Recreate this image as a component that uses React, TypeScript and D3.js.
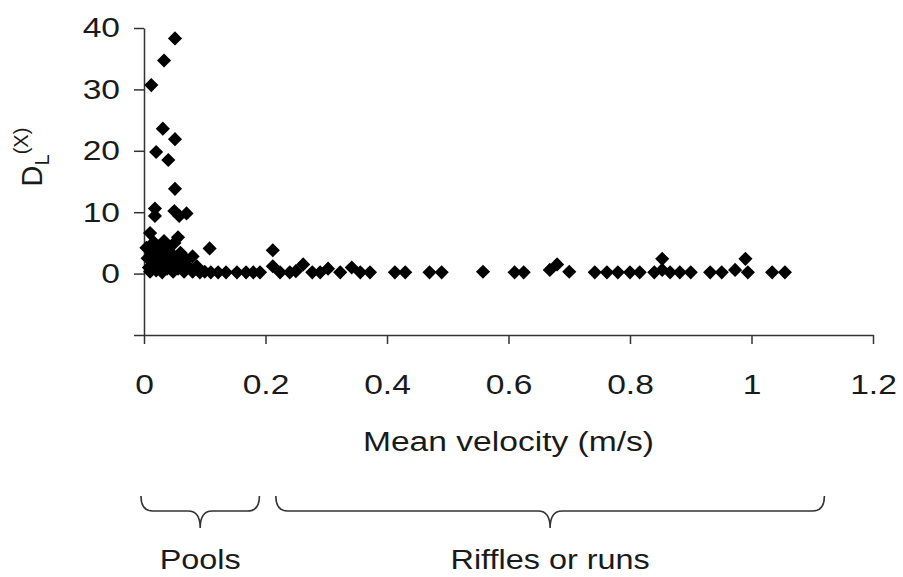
import React, { useEffect, useRef } from 'react';
import * as d3 from 'd3';

// velocity (m/s), D_L(X)
const pools: [number, number][] = [
  [0.012, 30.7], [0.033, 34.7], [0.051, 38.3], [0.031, 23.6], [0.051, 21.9],
  [0.02, 19.8], [0.04, 18.5], [0.051, 13.8], [0.018, 10.6], [0.018, 9.4],
  [0.05, 10.2], [0.058, 9.4], [0.07, 9.8], [0.01, 6.6], [0.056, 5.9],
  [0.108, 4.1], [0.08, 2.8],
  [0.004, 4.2], [0.006, 2.5], [0.008, 1.0], [0.01, 0.3], [0.014, 3.6],
  [0.016, 5.1], [0.018, 2.0], [0.02, 0.5], [0.024, 4.4], [0.026, 1.4],
  [0.028, 3.0], [0.03, 0.2], [0.033, 5.3], [0.036, 2.4], [0.038, 0.8],
  [0.04, 4.0], [0.043, 1.6], [0.046, 3.2], [0.048, 0.3], [0.05, 5.0],
  [0.053, 2.0], [0.056, 0.8], [0.06, 3.4], [0.063, 1.2], [0.066, 0.3],
  [0.07, 2.3], [0.075, 1.0], [0.08, 0.3], [0.087, 1.2], [0.092, 0.2],
  [0.1, 0.3], [0.11, 0.2], [0.122, 0.2], [0.135, 0.2], [0.153, 0.2],
  [0.168, 0.2], [0.18, 0.2], [0.191, 0.2]
];

const riffles: [number, number][] = [
  [0.212, 3.8], [0.212, 1.2], [0.224, 0.2], [0.24, 0.2], [0.25, 0.4],
  [0.262, 1.5], [0.277, 0.2], [0.29, 0.2], [0.303, 0.8], [0.323, 0.2],
  [0.342, 1.0], [0.356, 0.2], [0.372, 0.2], [0.413, 0.2], [0.43, 0.2],
  [0.47, 0.2], [0.49, 0.2], [0.558, 0.3], [0.61, 0.2], [0.625, 0.2],
  [0.668, 0.6], [0.68, 1.5], [0.7, 0.3], [0.742, 0.2], [0.762, 0.2],
  [0.78, 0.2], [0.8, 0.2], [0.816, 0.2], [0.84, 0.2], [0.853, 2.4],
  [0.853, 0.6], [0.866, 0.2], [0.882, 0.2], [0.9, 0.2], [0.932, 0.2],
  [0.951, 0.2], [0.973, 0.6], [0.99, 2.4], [0.994, 0.2], [1.034, 0.2],
  [1.055, 0.2]
];

const xTicks = [0, 0.2, 0.4, 0.6, 0.8, 1, 1.2];
const yTicks = [-10, 0, 10, 20, 30, 40];
const xTitle = 'Mean velocity (m/s)';
const groups = [
  { label: 'Pools', from: -0.005, to: 0.19 },
  { label: 'Riffles or runs', from: 0.217, to: 1.12 }
];

const FONT = '"Liberation Sans", Arial, sans-serif';
const STRETCH = 'scale(1.2,1)'; // the scanned figure's lettering is wide

export default function App() {
  const ref = useRef<SVGSVGElement>(null);

  useEffect(() => {
    const svg = d3.select(ref.current);
    svg.selectAll('*').remove();

    const x = d3.scaleLinear().domain([0, 1.2]).range([144, 873]);
    const y = d3.scaleLinear().domain([-10, 40]).range([335, 28]);

    // y axis
    const yAxis = svg.append('g')
      .attr('transform', `translate(${x(0)},0)`)
      .call(d3.axisLeft(y).tickValues(yTicks).tickSize(10).tickSizeOuter(0).tickPadding(10)
        .tickFormat((d) => (d === -10 ? '' : String(d))));
    yAxis.selectAll('text').style('font-size', '28px').style('font-family', FONT)
      .attr('fill', '#1a1a1a').attr('transform', STRETCH);

    // x axis
    const xAxis = svg.append('g')
      .attr('transform', `translate(0,${y(-10)})`)
      .call(d3.axisBottom(x).tickValues(xTicks).tickSize(9).tickSizeOuter(0).tickPadding(30)
        .tickFormat((d) => d3.format('~g')(d as number)));
    xAxis.selectAll('text').style('font-size', '28px').style('font-family', FONT)
      .attr('fill', '#1a1a1a').attr('transform', STRETCH);
    svg.selectAll('.domain, .tick line').attr('stroke', '#333').attr('stroke-width', 1.5);

    // points
    const diamond = d3.symbol().type(d3.symbolSquare).size(100);
    svg.append('g')
      .selectAll('path')
      .data([...pools, ...riffles])
      .enter()
      .append('path')
      .attr('d', diamond)
      .attr('transform', (d) => `translate(${x(d[0])},${y(d[1])}) rotate(45)`)
      .attr('fill', '#000');

    // x title
    svg.append('text')
      .attr('transform', `translate(${(x(0) + x(1.2)) / 2},451) ${STRETCH}`)
      .attr('text-anchor', 'middle')
      .style('font-size', '28px')
      .style('font-family', FONT)
      .attr('fill', '#1a1a1a')
      .text(xTitle);

    // y title D_L^(X)
    const yt = svg.append('text')
      .attr('transform', 'translate(42,157) rotate(-90)')
      .attr('text-anchor', 'middle')
      .style('font-size', '29px')
      .style('font-family', FONT)
      .attr('fill', '#1a1a1a');
    yt.append('tspan').text('D');
    yt.append('tspan').attr('dy', 7).style('font-size', '20px').text('L');
    yt.append('tspan').attr('dy', -21).style('font-size', '20px').text('(X)');

    // braces
    const brace = (x0: number, x1: number) => {
      const top = 496, mid = 511, tip = 528, r = 12;
      const c = (x0 + x1) / 2;
      return `M${x0},${top} Q${x0},${mid} ${x0 + r},${mid} L${c - r},${mid} Q${c},${mid} ${c},${tip}` +
        ` M${c},${tip} Q${c},${mid} ${c + r},${mid} L${x1 - r},${mid} Q${x1},${mid} ${x1},${top}`;
    };
    const g = svg.append('g').selectAll('g').data(groups).enter().append('g');
    g.append('path')
      .attr('d', (d) => brace(x(d.from), x(d.to)))
      .attr('fill', 'none')
      .attr('stroke', '#333')
      .attr('stroke-width', 1.6);
    g.append('text')
      .attr('transform', (d) => `translate(${(x(d.from) + x(d.to)) / 2},569) ${STRETCH}`)
      .attr('text-anchor', 'middle')
      .style('font-size', '27px')
      .style('font-family', FONT)
      .attr('fill', '#1a1a1a')
      .text((d) => d.label);
  }, []);

  return (
    <svg ref={ref} width={903} height={577}
      style={{ position: 'absolute', left: 0, top: 0, background: '#fff' }} />
  );
}
